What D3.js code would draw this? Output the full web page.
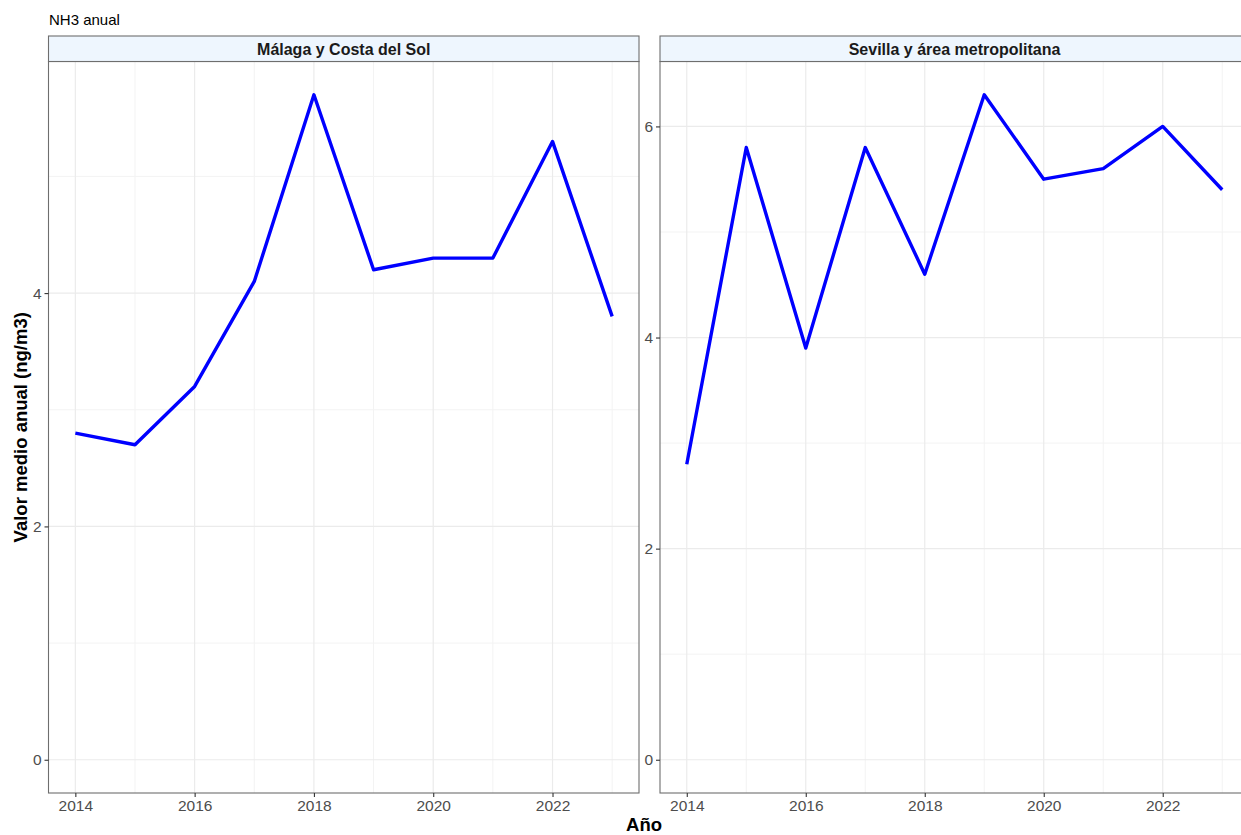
<!DOCTYPE html>
<html>
<head>
<meta charset="utf-8">
<script src="https://cdn.jsdelivr.net/npm/d3@7"></script>
<style>
  html, body { margin: 0; padding: 0; background: #fff; }
  svg { display: block; font-family: "Liberation Sans", Arial, sans-serif; }
</style>
</head>
<body>
<svg id="chart" width="1241" height="835"></svg>
<script>
const years = [2014, 2015, 2016, 2017, 2018, 2019, 2020, 2021, 2022, 2023];
const panelNames = ["Málaga y Costa del Sol", "Sevilla y área metropolitana"];
const malagaValues = [2.8, 2.7, 3.2, 4.1, 5.7, 4.2, 4.3, 4.3, 5.3, 3.8];
const sevillaValues = [2.8, 5.8, 3.9, 5.8, 4.6, 6.3, 5.5, 5.6, 6.0, 5.4];
const xTicks = [2014, 2016, 2018, 2020, 2022];
const xMinor = [2015, 2017, 2019, 2021, 2023];
const leftYTicks = [0, 2, 4];
const leftYMinor = [1, 3, 5];
const rightYTicks = [0, 2, 4, 6];
const rightYMinor = [1, 3, 5];
const chartTitle = "NH3 anual";
const xTitle = "Año";
const yTitle = "Valor medio anual (ng/m3)";

const svg = d3.select("#chart");

const plotTop = 61.5, plotBottom = 793, stripTop = 36;
const panels = [
  { name: panelNames[0], values: malagaValues, x0: 48.5, x1: 639, yTicks: leftYTicks, yMinor: leftYMinor },
  { name: panelNames[1], values: sevillaValues, x0: 660, x1: 1249, yTicks: rightYTicks, yMinor: rightYMinor }
];

function expandDomain(lo, hi, f) { const s = hi - lo; return [lo - s * f, hi + s * f]; }

panels.forEach(p => {
  const xd = expandDomain(d3.min(years), d3.max(years), 0.05);
  const yd = expandDomain(0, d3.max(p.values), 0.05);
  const x = d3.scaleLinear().domain(xd).range([p.x0, p.x1]);
  const y = d3.scaleLinear().domain(yd).range([plotBottom, plotTop]);
  const g = svg.append("g");

  g.append("rect").attr("x", p.x0).attr("y", plotTop).attr("width", p.x1 - p.x0).attr("height", plotBottom - plotTop).attr("fill", "#fff");

  g.selectAll(".vmin").data(xMinor).join("line")
    .attr("x1", d => x(d)).attr("x2", d => x(d)).attr("y1", plotTop).attr("y2", plotBottom)
    .attr("stroke", "#F3F3F3").attr("stroke-width", 1);
  g.selectAll(".hmin").data(p.yMinor).join("line")
    .attr("x1", p.x0).attr("x2", p.x1).attr("y1", d => y(d)).attr("y2", d => y(d))
    .attr("stroke", "#F3F3F3").attr("stroke-width", 1);
  g.selectAll(".vmaj").data(xTicks).join("line")
    .attr("x1", d => x(d)).attr("x2", d => x(d)).attr("y1", plotTop).attr("y2", plotBottom)
    .attr("stroke", "#EBEBEB").attr("stroke-width", 1.2);
  g.selectAll(".hmaj").data(p.yTicks).join("line")
    .attr("x1", p.x0).attr("x2", p.x1).attr("y1", d => y(d)).attr("y2", d => y(d))
    .attr("stroke", "#EBEBEB").attr("stroke-width", 1.2);

  const line = d3.line().x((d, i) => x(years[i])).y(d => y(d));
  g.append("path").datum(p.values).attr("d", line)
    .attr("fill", "none").attr("stroke", "#0000FF").attr("stroke-width", 3.4)
    .attr("stroke-linejoin", "round").attr("stroke-linecap", "butt");

  g.append("rect").attr("x", p.x0).attr("y", plotTop).attr("width", p.x1 - p.x0).attr("height", plotBottom - plotTop)
    .attr("fill", "none").attr("stroke", "#6E6E6E").attr("stroke-width", 1.1);

  g.append("rect").attr("x", p.x0).attr("y", stripTop).attr("width", p.x1 - p.x0).attr("height", plotTop - stripTop)
    .attr("fill", "#EEF6FE").attr("stroke", "#6E6E6E").attr("stroke-width", 1.1);
  g.append("text").attr("x", (p.x0 + p.x1) / 2).attr("y", (stripTop + plotTop) / 2 + 5.8)
    .attr("text-anchor", "middle").attr("font-size", 16).attr("font-weight", "bold").attr("fill", "#1A1A1A")
    .text(p.name);

  const xAxis = d3.axisBottom(x).tickValues(xTicks).tickFormat(d3.format("d")).tickSize(4).tickPadding(3);
  const gx = g.append("g").attr("transform", `translate(0,${plotBottom})`).call(xAxis);
  gx.select(".domain").remove();
  gx.selectAll(".tick line").attr("stroke", "#333").attr("stroke-width", 1.1);
  gx.selectAll(".tick text").attr("fill", "#4D4D4D").attr("font-size", 15.5).attr("font-family", "Liberation Sans, Arial, sans-serif");

  const yAxis = d3.axisLeft(y).tickValues(p.yTicks).tickFormat(d3.format("d")).tickSize(4).tickPadding(3);
  const gy = g.append("g").attr("transform", `translate(${p.x0},0)`).call(yAxis);
  gy.select(".domain").remove();
  gy.selectAll(".tick line").attr("stroke", "#333").attr("stroke-width", 1.1);
  gy.selectAll(".tick text").attr("fill", "#4D4D4D").attr("font-size", 15.5).attr("font-family", "Liberation Sans, Arial, sans-serif");
});

svg.append("text").attr("x", 49).attr("y", 25).attr("font-size", 15).attr("fill", "#000").text(chartTitle);
svg.append("text").attr("x", 644).attr("y", 831).attr("text-anchor", "middle")
  .attr("font-size", 18.5).attr("font-weight", "bold").attr("fill", "#000").text(xTitle);
svg.append("text").attr("transform", `translate(27,${(plotTop + plotBottom) / 2}) rotate(-90)`)
  .attr("text-anchor", "middle").attr("font-size", 18.5).attr("font-weight", "bold").attr("fill", "#000").text(yTitle);
</script>
</body>
</html>
